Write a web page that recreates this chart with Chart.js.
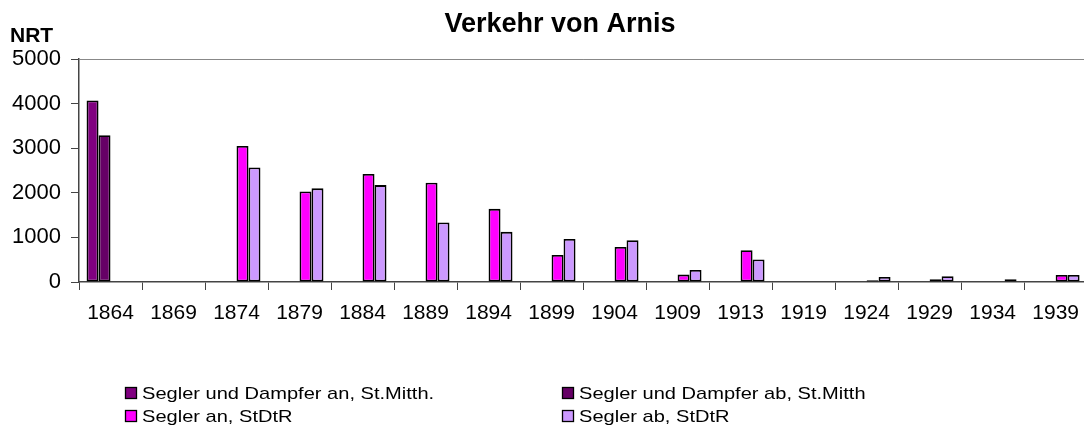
<!DOCTYPE html>
<html>
<head>
<meta charset="utf-8">
<title>Verkehr von Arnis</title>
<script src="https://cdn.jsdelivr.net/npm/chart.js@4.4.1/dist/chart.umd.min.js"></script>
<style>
html, body { margin: 0; padding: 0; background: #fff; overflow: hidden; }
#box { width: 1090px; height: 430px; }
</style>
</head>
<body>
<div id="box"><canvas id="chart"></canvas></div>
<script>
const years = ['1864','1869','1874','1879','1884','1889','1894','1899','1904','1909','1913','1919','1924','1929','1934','1939'];
const sdAn = [4070,null,null,null,null,null,null,null,null,null,null,null,null,null,null,null];
const sdAb = [3290,null,null,null,null,null,null,null,null,null,null,null,null,null,null,null];
const seglerAn = [null,null,3050,2030,2420,2225,1640,607,787,166,712,null,40,60,null,157];
const seglerAb = [null,null,2570,2100,2173,1335,1124,966,937,270,503,null,112,128,60,157];
const yTicks = [0,1000,2000,3000,4000,5000];

const font = 'Liberation Sans, Arial, sans-serif';

var decor = {
  id: 'decor',
  afterDraw(chart) {
    const ctx = chart.ctx;
    const a = chart.chartArea;
    ctx.save();
    // grey frame line at the top (5000)
    ctx.strokeStyle = '#888';
    ctx.lineWidth = 1;
    ctx.beginPath();
    ctx.moveTo(a.left, a.top + 0.5);
    ctx.lineTo(a.right, a.top + 0.5);
    ctx.stroke();

    ctx.fillStyle = '#000';
    ctx.font = 'bold 27px ' + font;
    ctx.textAlign = 'center';
    ctx.textBaseline = 'alphabetic';
    ctx.fillText('Verkehr von Arnis', 560, 32);

    ctx.font = 'bold 21px ' + font;
    ctx.textAlign = 'left';
    ctx.fillText('NRT', 10, 42);

    // legend in two columns
    const cols = [125, 562];
    const rows = [393, 416];
    ctx.font = '17px ' + font;
    ctx.textBaseline = 'middle';
    chart.data.datasets.forEach(function (ds, i) {
      const x = cols[i % 2];
      const y = rows[Math.floor(i / 2)];
      ctx.fillStyle = ds.backgroundColor;
      ctx.fillRect(x, y - 6, 12, 12);
      ctx.strokeStyle = '#000';
      ctx.lineWidth = 1.3;
      ctx.strokeRect(x + 0.5, y - 5.5, 11, 11);
      ctx.fillStyle = '#000';
      ctx.save();
      ctx.translate(x + 17, y + 1);
      ctx.scale(1.18, 1);
      ctx.fillText(ds.label, 0, 0);
      ctx.restore();
    });
    ctx.restore();
  }
};

new Chart(document.getElementById('chart'), {
  type: 'bar',
  data: {
    labels: years,
    datasets: [
      {label: 'Segler und Dampfer an, St.Mitth.', data: sdAn, backgroundColor: '#800080'},
      {label: 'Segler und Dampfer ab, St.Mitth', data: sdAb, backgroundColor: '#660066'},
      {label: 'Segler an, StDtR', data: seglerAn, backgroundColor: '#FF00FF'},
      {label: 'Segler ab, StDtR', data: seglerAb, backgroundColor: '#CC99FF'}
    ]
  },
  options: {
    responsive: true,
    maintainAspectRatio: false,
    animation: false,
    devicePixelRatio: 1,
    layout: {padding: {top: 59, left: 0, right: 0, bottom: 0}},
    datasets: {
      bar: {borderColor: '#000', borderWidth: 1.8, borderSkipped: false, categoryPercentage: 0.76, barPercentage: 1}
    },
    plugins: {
      legend: {display: false},
      title: {display: false},
      tooltip: {enabled: false}
    },
    scales: {
      x: {
        grid: {display: true, drawOnChartArea: false, drawTicks: true, tickLength: 8, color: '#444', offset: true},
        border: {display: true, color: '#444', width: 1.5},
        ticks: {color: '#000', font: {family: font, size: 21}, padding: 11, maxRotation: 0, autoSkip: false},
        afterFit(s) { s.height = 148; }
      },
      y: {
        min: 0,
        max: 5000,
        afterBuildTicks(s) { s.ticks = yTicks.map(v => ({value: v})); },
        grid: {display: true, drawOnChartArea: false, drawTicks: true, tickLength: 8, color: '#444'},
        border: {display: true, color: '#444', width: 1.5},
        ticks: {color: '#000', font: {family: font, size: 22}, padding: 10, callback: v => String(v)},
        afterFit(s) { s.width = 79; }
      }
    }
  },
  plugins: [decor]
});
</script>
</body>
</html>
